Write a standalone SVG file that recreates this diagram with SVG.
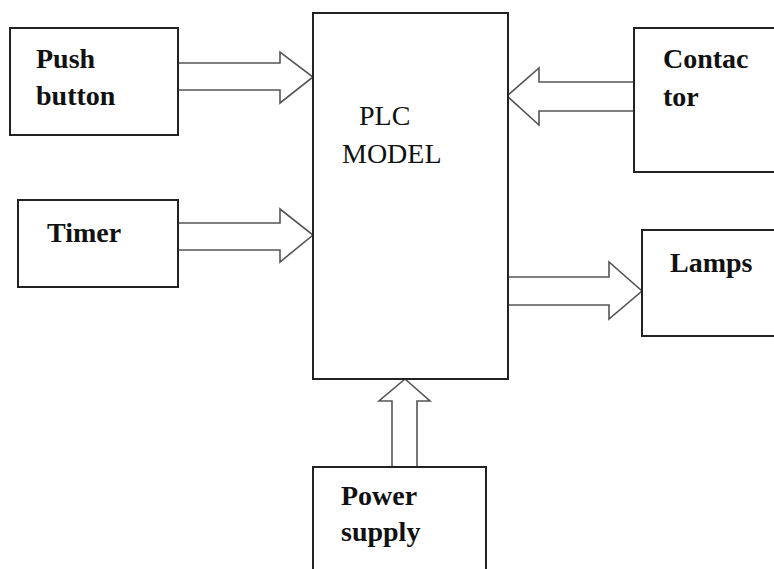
<svg xmlns="http://www.w3.org/2000/svg" width="774" height="569" viewBox="0 0 774 569">
<style>
.box{fill:#fff;stroke:#222;stroke-width:2}
.arrow{fill:#fff;stroke:#555;stroke-width:1.6;stroke-linejoin:miter}
.lbl{font-family:"Liberation Serif","Times New Roman",serif;font-size:28px;font-weight:bold;fill:#111}
.plc{font-family:"Liberation Serif","Times New Roman",serif;font-size:28px;fill:#111}
</style>
<rect width="774" height="569" fill="#fff"/>
<g id="connectors">
<path class="arrow" d="M178,63 H280 V52 L313,77 L280,103 V90 H178"/>
<path class="arrow" d="M178,223 H280 V209 L313,235 L280,262 V250 H178"/>
<path class="arrow" d="M634,82 H539 V68 L507,96 L539,125 V111 H634 Z"/>
<path class="arrow" d="M508,277 H609 V262 L642,291 L609,319 V305 H508 Z"/>
<path class="arrow" d="M392,467 V401 H379 L405,379 L430,401 H417 V467 Z"/>
</g>
<g id="plc">
<rect class="box" x="313" y="13" width="195" height="366"/>
<text class="plc" x="359" y="125">PLC</text>
<text class="plc" x="342" y="163">MODEL</text>
</g>
<g id="push-button">
<rect class="box" x="10" y="28" width="168" height="107"/>
<text class="lbl" x="36" y="68">Push</text>
<text class="lbl" x="36" y="105">button</text>
</g>
<g id="timer">
<rect class="box" x="18" y="200" width="160" height="87"/>
<text class="lbl" x="47" y="242">Timer</text>
</g>
<g id="contactor">
<rect class="box" x="634" y="28" width="150" height="144"/>
<text class="lbl" x="663" y="68">Contac</text>
<text class="lbl" x="663" y="106">tor</text>
</g>
<g id="lamps">
<rect class="box" x="642" y="230" width="142" height="106"/>
<text class="lbl" x="670" y="272">Lamps</text>
</g>
<g id="power-supply">
<rect class="box" x="313" y="467" width="173" height="120"/>
<text class="lbl" x="341" y="505">Power</text>
<text class="lbl" x="341" y="541">supply</text>
</g>
</svg>
